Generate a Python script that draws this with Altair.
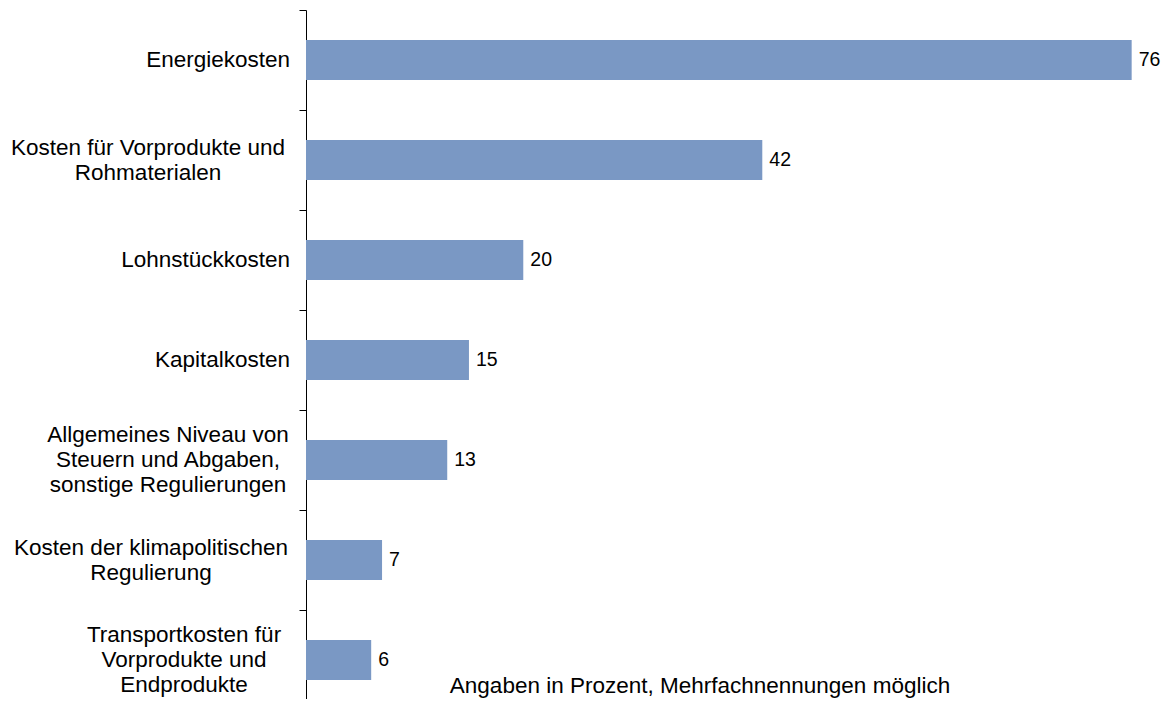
import altair as alt
import pandas as pd

categories = [
    "Energiekosten",
    "Kosten für Vorprodukte und|Rohmaterialen",
    "Lohnstückkosten",
    "Kapitalkosten",
    "Allgemeines Niveau von|Steuern und Abgaben,|sonstige Regulierungen",
    "Kosten der klimapolitischen|Regulierung",
    "Transportkosten für|Vorprodukte und|Endprodukte",
]
values = [76, 42, 20, 15, 13, 7, 6]
footnote = "Angaben in Prozent, Mehrfachnennungen möglich"

df = pd.DataFrame({"cat": categories, "val": values})
FONT = "Liberation Sans"
LABEL_SIZE = 22.5
LINE_H = 25

y_enc = alt.Y(
    "cat:N",
    sort=None,
    scale=alt.Scale(paddingInner=0, paddingOuter=0, range=[0, 700]),
    axis=alt.Axis(
        title=None,
        labels=False,
        tickBand="extent",
        tickSize=7,
        tickColor="black",
        domainColor="black",
        domainWidth=1,
        tickWidth=1,
        grid=False,
    ),
)
x_enc = alt.X("val:Q", scale=alt.Scale(domain=[0, 78.7]), axis=None)

base = alt.Chart(df)
bars = base.mark_bar(color="#7A98C4", size=40).encode(x=x_enc, y=y_enc)
texts = base.mark_text(
    align="left", baseline="middle", dx=7, font=FONT, fontSize=19.5, color="black"
).encode(x=x_enc, y=y_enc, text="val:Q")

# category labels: single-line ones right-aligned, multi-line ones centred blocks
single = base.transform_filter("indexof(datum.cat, '|') < 0").mark_text(
    align="right", baseline="middle", font=FONT, fontSize=LABEL_SIZE, color="black"
).encode(x=alt.value(-16), y=y_enc, text="cat:N")

# (category index, centre x offset from axis in px)
multi_style = [(1, -158), (4, -138), (5, -155), (6, -122)]
multi_layers = []
for idx, cx in multi_style:
    cat = categories[idx]
    n = len(cat.split("|"))
    multi_layers.append(
        base.transform_filter(alt.datum.cat == cat).mark_text(
            align="center", baseline="middle", font=FONT, fontSize=LABEL_SIZE,
            color="black", lineBreak="|", lineHeight=LINE_H,
            dy=-(n - 1) * LINE_H / 2,
        ).encode(x=alt.value(cx), y=y_enc, text="cat:N")
    )

note = alt.Chart(pd.DataFrame({"t": [footnote]})).mark_text(
    align="center", baseline="middle", font=FONT, fontSize=LABEL_SIZE, color="black"
).encode(x=alt.value(394), y=alt.value(676), text="t:N")

chart = (
    alt.layer(bars, texts, single, *multi_layers, note)
    .properties(
        width=855,
        height=689,
        autosize=alt.AutoSizeParams(type="none"),
        padding={"left": 298, "top": 2, "right": 0, "bottom": 0},
    )
    .configure(background="white")
    .configure_view(strokeWidth=0, stroke="transparent")
)

chart.save("out.html", embed_options={"renderer": "svg", "actions": False})
